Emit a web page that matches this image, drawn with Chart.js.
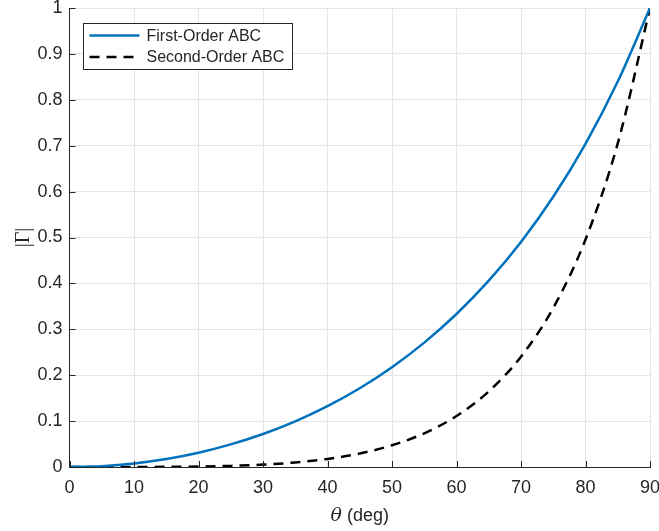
<!DOCTYPE html>
<html>
<head>
<meta charset="utf-8">
<script src="https://cdn.jsdelivr.net/npm/chart.js@4"></script>
<style>
  html, body { margin: 0; padding: 0; background: #fff; }
  #wrap { width: 659px; height: 531px; }
</style>
</head>
<body>
<div id="wrap"><canvas id="grafica"></canvas></div>
<script>
const angles = [0, 5, 10, 15, 20, 25, 30, 35, 40, 45, 50, 55, 60, 65, 70, 75, 80, 85, 90];

const firstOrder = [0, 0.0019, 0.0077, 0.0173, 0.0311, 0.0492, 0.0718, 0.0994, 0.1325,
    0.1716, 0.2174, 0.2710, 0.3333, 0.4059, 0.4903, 0.5888, 0.7041, 0.8397, 1];

const secondOrder = [0, 0, 0.0001, 0.0003, 0.0010, 0.0024, 0.0052, 0.0099, 0.0176,
    0.0294, 0.0473, 0.0734, 0.1111, 0.1647, 0.2404, 0.3467, 0.4957, 0.7050, 1];

const xTicks = [0, 10, 20, 30, 40, 50, 60, 70, 80, 90];
const yTicks = [0, 0.1, 0.2, 0.3, 0.4, 0.5, 0.6, 0.7, 0.8, 0.9, 1];

const tickFont = { family: "'Liberation Sans', Arial, sans-serif", size: 18 };
const textColor = '#262626';

const dataset1 = {
    label: 'First-Order ABC',
    data: angles.map((a, i) => ({ x: a, y: firstOrder[i] })),
    borderColor: '#0072BD',
    borderWidth: 2.5,
    pointRadius: 0,
    fill: false,
    cubicInterpolationMode: 'monotone'
};

const dataset2 = {
    label: 'Second-Order ABC',
    data: angles.map((a, i) => ({ x: a, y: secondOrder[i] })),
    borderColor: '#000000',
    borderWidth: 2.5,
    borderDash: [10, 7],
    pointRadius: 0,
    fill: false,
    cubicInterpolationMode: 'monotone'
};

// inward ticks, axis titles and the boxed legend, drawn like MATLAB does
const matlabBits = {
    id: 'matlabBits',
    afterDatasetsDraw(chart) {
        const ctx = chart.ctx;
        const area = chart.chartArea;
        const xs = chart.scales.x, ys = chart.scales.y;
        ctx.save();
        ctx.strokeStyle = '#262626';
        ctx.lineWidth = 1;
        ctx.beginPath();
        xTicks.forEach(v => {
            const px = Math.round(xs.getPixelForValue(v)) + 0.5;
            ctx.moveTo(px, area.bottom);
            ctx.lineTo(px, area.bottom - 6);
        });
        yTicks.forEach(v => {
            const py = Math.round(ys.getPixelForValue(v)) + 0.5;
            ctx.moveTo(area.left, py);
            ctx.lineTo(area.left + 6, py);
        });
        ctx.stroke();

        // x title: italic theta + " (deg)"
        ctx.fillStyle = textColor;
        ctx.textBaseline = 'alphabetic';
        const cx = (area.left + area.right) / 2;
        const thetaFont = "italic 19px 'DejaVu Serif', 'Liberation Serif', serif";
        const restFont = "18px 'Liberation Sans', Arial, sans-serif";
        ctx.font = thetaFont;
        const thetaW = ctx.measureText('\u03B8').width;
        ctx.font = restFont;
        const restW = ctx.measureText(' (deg)').width;
        const sx = cx - (thetaW + restW) / 2;
        ctx.font = thetaFont;
        ctx.fillText('\u03B8', sx, 521);
        ctx.font = restFont;
        ctx.fillText(' (deg)', sx + thetaW, 521);

        // y title |Γ|
        ctx.save();
        ctx.translate(29, (area.top + area.bottom) / 2);
        ctx.rotate(-Math.PI / 2);
        ctx.textAlign = 'center';
        ctx.font = "20px 'Liberation Serif', serif";
        ctx.fillText('|\u0393|', 0, 0);
        ctx.restore();

        // legend box
        const lx = 83.5, ly = 23.5, lw = 209, lh = 46;
        ctx.fillStyle = '#ffffff';
        ctx.fillRect(lx, ly, lw, lh);
        ctx.strokeStyle = '#262626';
        ctx.lineWidth = 1;
        ctx.strokeRect(lx, ly, lw, lh);
        const rows = [dataset1, dataset2];
        rows.forEach((ds, i) => {
            const yy = ly + 12 + i * 21.5;
            ctx.beginPath();
            ctx.strokeStyle = ds.borderColor;
            ctx.lineWidth = ds.borderWidth;
            ctx.setLineDash(ds.borderDash || []);
            ctx.moveTo(lx + 6, yy);
            ctx.lineTo(lx + 56, yy);
            ctx.stroke();
            ctx.setLineDash([]);
            ctx.fillStyle = textColor;
            ctx.font = "16px 'Liberation Sans', Arial, sans-serif";
            ctx.textBaseline = 'middle';
            ctx.fillText(ds.label, lx + 63, yy + 1);
        });
        ctx.restore();
    }
};

const graph = document.querySelector('#grafica');

new Chart(graph, {
    type: 'line',
    data: { datasets: [dataset1, dataset2] },
    options: {
        responsive: true,
        maintainAspectRatio: false,
        animation: false,
        layout: { padding: { left: 0, right: 9, top: 8, bottom: 0 } },
        plugins: {
            legend: { display: false },
            tooltip: { enabled: false }
        },
        scales: {
            x: {
                type: 'linear',
                min: 0,
                max: 90,
                afterBuildTicks: s => { s.ticks = xTicks.map(v => ({ value: v })); },
                afterFit: s => { s.height = 64; s.paddingLeft = 0; s.paddingRight = 0; },
                grid: { color: '#e5e5e5', drawTicks: false },
                border: { color: '#262626', width: 1 },
                ticks: { color: textColor, font: tickFont, padding: 10, maxRotation: 0 }
            },
            y: {
                type: 'linear',
                min: 0,
                max: 1,
                afterBuildTicks: s => { s.ticks = yTicks.map(v => ({ value: v })); },
                afterFit: s => { s.width = 69.5; s.paddingTop = 0; s.paddingBottom = 0; },
                grid: { color: '#e5e5e5', drawTicks: false },
                border: { color: '#262626', width: 1 },
                ticks: {
                    color: textColor, font: tickFont, padding: 7,
                    callback: v => String(Math.round(v * 10) / 10)
                }
            }
        }
    },
    plugins: [matlabBits]
});
</script>
</body>
</html>
